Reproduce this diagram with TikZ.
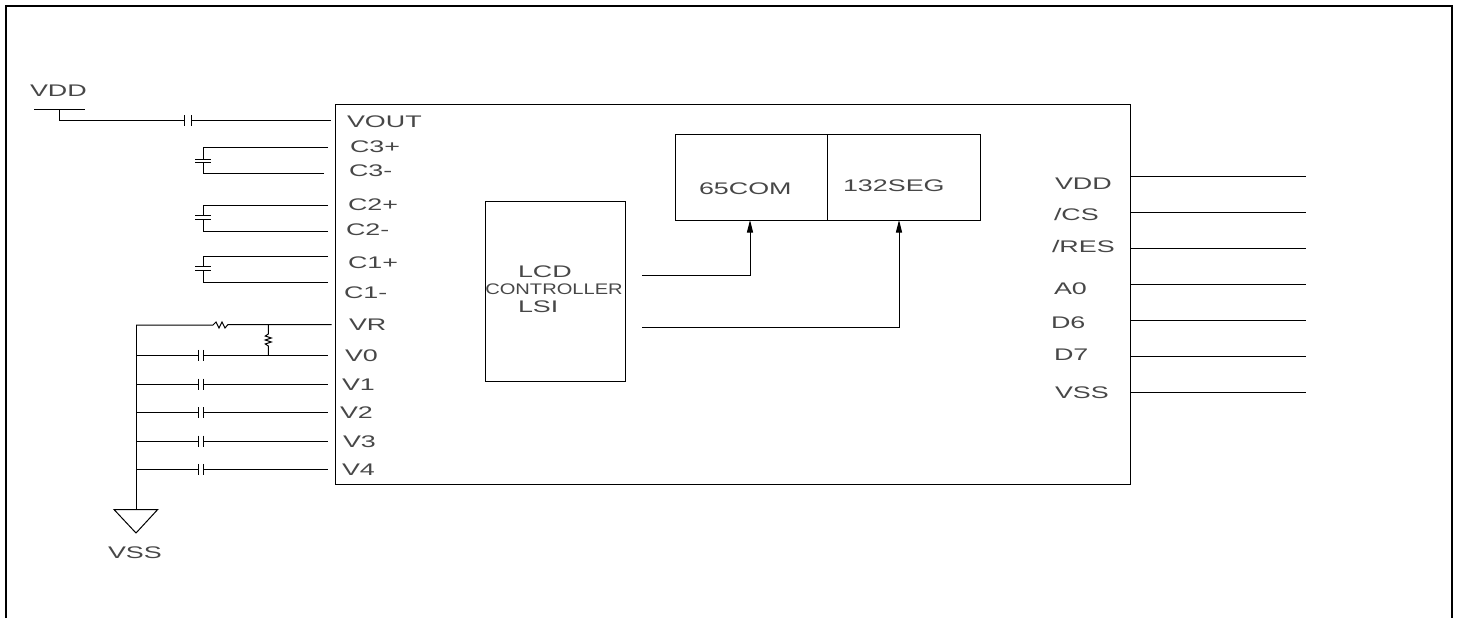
\documentclass[tikz,border=0pt]{standalone}
\usepackage{fontspec}
\setmainfont{Liberation Sans}
\usetikzlibrary{arrows.meta}
\tikzset{every picture/.style={line width=0.75pt},
  pinlabel/.style={anchor=west,inner sep=0pt,outer sep=0pt,font=\fontsize{12.6}{13}\selectfont,text height=9pt,text depth=0pt,xscale=1.6,text=black!72},
  smalllabel/.style={pinlabel,anchor=center,font=\fontsize{11.5}{12}\selectfont,text height=8.2pt,xscale=0.82},
  blockbox/.style={draw,inner sep=0pt,outer sep=0pt},
  wirearrow/.style={-{Triangle[length=9.5pt,width=4.6pt]}}}

\begin{document}
\begin{tikzpicture}[x=0.75pt,y=0.75pt,yscale=-1]
  \useasboundingbox (0,0) rectangle (1458,618);

  % outer frame, open at the bottom
  \draw [line width=1.5pt] (6,618) -- (6,6) -- (1452,6) -- (1452,618);

  % blocks
  \node (chip) [blockbox,minimum width=596.25pt,minimum height=285pt] at (732.5,294) {};
  \node (lsi) [blockbox,minimum width=105pt,minimum height=135pt] at (555,291) {};
  \node (com) [blockbox,minimum width=114pt,minimum height=64.5pt] at (751,177) {};
  \node (seg) [blockbox,minimum width=114.75pt,minimum height=64.5pt] at (903.5,177) {};

  \node (lblLcd) [pinlabel] at (518,271) {LCD};
  \node (lblCtrl) [smalllabel] at (554,289) {CONTROLLER};
  \node (lblLsi) [pinlabel] at (518,306) {LSI};
  \node (lblCom) [pinlabel] at (699,188) {65COM};
  \node (lblSeg) [pinlabel] at (843,185) {132SEG};

  % block arrows
  \coordinate (lsiOutA) at (642,275);
  \coordinate (lsiOutB) at (642,327);
  \coordinate (comIn) at (750,220);
  \coordinate (segIn) at (899,220);
  \draw [wirearrow] (lsiOutA) -| (comIn);
  \draw [wirearrow] (lsiOutB) -| (segIn);

  % left pin labels
  \node (lblVout) [pinlabel] at (347,121) {VOUT};
  \node (lblCthreeP) [pinlabel] at (350,146) {C3+};
  \node (lblCthreeM) [pinlabel] at (349,170) {C3-};
  \node (lblCtwoP) [pinlabel] at (348,204) {C2+};
  \node (lblCtwoM) [pinlabel] at (346,229) {C2-};
  \node (lblConeP) [pinlabel] at (348,262) {C1+};
  \node (lblConeM) [pinlabel] at (344,292) {C1-};
  \node (lblVr) [pinlabel] at (349,324) {VR};
  \node (lblVzero) [pinlabel] at (345,355) {V0};
  \node (lblVone) [pinlabel] at (342,384) {V1};
  \node (lblVtwo) [pinlabel] at (340,412) {V2};
  \node (lblVthree) [pinlabel] at (343,441) {V3};
  \node (lblVfour) [pinlabel] at (342,469) {V4};

  % right pin labels
  \node (lblRvdd) [pinlabel] at (1055,183) {VDD};
  \node (lblCs) [pinlabel] at (1054,214) {/CS};
  \node (lblRes) [pinlabel] at (1052,246) {/RES};
  \node (lblAzero) [pinlabel] at (1054,288) {A0};
  \node (lblDsix) [pinlabel] at (1051,322) {D6};
  \node (lblDseven) [pinlabel] at (1054,354) {D7};
  \node (lblRvss) [pinlabel] at (1055,392) {VSS};

  % right pins
  \coordinate (rpA) at (1130,176.7);
  \coordinate (rpB) at (1130,212.3);
  \coordinate (rpC) at (1130,248);
  \coordinate (rpD) at (1130,284);
  \coordinate (rpE) at (1130,320.3);
  \coordinate (rpF) at (1130,356.3);
  \coordinate (rpG) at (1130,392);
  \draw (rpA) -- ++(176,0);
  \draw (rpB) -- ++(176,0);
  \draw (rpC) -- ++(176,0);
  \draw (rpD) -- ++(176,0);
  \draw (rpE) -- ++(176,0);
  \draw (rpF) -- ++(176,0);
  \draw (rpG) -- ++(176,0);

  % VDD supply and VOUT capacitor
  \node (lblVdd) [pinlabel] at (30,90) {VDD};
  \coordinate (vddStem) at (59,109.3);
  \coordinate (pinVout) at (331,120.7);
  \coordinate (voutCapA) at (184.3,120.7);
  \coordinate (voutCapB) at (191.7,120.7);
  \draw (34,109.3) -- (85,109.3);
  \draw (vddStem) |- (voutCapA);
  \draw (voutCapB) -- (pinVout);
  \draw (voutCapA) ++(0,-5.5) -- ++(0,11);
  \draw (voutCapB) ++(0,-5.5) -- ++(0,11);

  % flying capacitors
  \coordinate (pinCthreeP) at (328,147.7);
  \coordinate (pinCthreeM) at (324,173.3);
  \coordinate (capThreeA) at (203,159);
  \coordinate (capThreeB) at (203,162);
  \draw (pinCthreeP) -| (capThreeA);
  \draw (pinCthreeM) -| (capThreeB);
  \draw (capThreeA) ++(-8,0) -- ++(16,0);
  \draw (capThreeB) ++(-8,0) -- ++(16,0);

  \coordinate (pinCtwoP) at (328,205.3);
  \coordinate (pinCtwoM) at (328,231);
  \coordinate (capTwoA) at (203,215.7);
  \coordinate (capTwoB) at (203,219.3);
  \draw (pinCtwoP) -| (capTwoA);
  \draw (pinCtwoM) -| (capTwoB);
  \draw (capTwoA) ++(-8,0) -- ++(16,0);
  \draw (capTwoB) ++(-8,0) -- ++(16,0);

  \coordinate (pinConeP) at (328,256.7);
  \coordinate (pinConeM) at (328,282.7);
  \coordinate (capOneA) at (203,266.7);
  \coordinate (capOneB) at (203,270);
  \draw (pinConeP) -| (capOneA);
  \draw (pinConeM) -| (capOneB);
  \draw (capOneA) ++(-8,0) -- ++(16,0);
  \draw (capOneB) ++(-8,0) -- ++(16,0);

  % VSS rail
  \coordinate (railTop) at (136,325);
  \coordinate (railEnd) at (136,509.5);
  \draw (railTop) -- (railEnd);
  \draw (114,509.5) -- (157.7,509.5) -- (136,533) -- cycle;
  \node (lblVss) [pinlabel] at (108,552) {VSS};

  % VR line with its two resistors
  \coordinate (pinVr) at (331.7,324.5);
  \coordinate (resTap) at (268.3,324.5);
  \coordinate (pinVzero) at (327.7,355.3);
  \coordinate (resTapB) at (268.3,355.3);
  \draw (railTop) -- (213,325) -- (216,322) -- (219,328) -- (222,322) -- (225,328) -- (228,324.5) -- (pinVr);
  \draw (resTap) -- (268.3,334) -- (265.3,336) -- (271.3,338) -- (265.3,340) -- (271.3,342) -- (265.3,344) -- (268.3,346) -- (resTapB);

  % filter capacitors to the rail
  \coordinate (railZero) at (136,355.3);
  \coordinate (capZeroA) at (198.3,355.3);
  \coordinate (capZeroB) at (203.3,355.3);
  \draw (railZero) -- (capZeroA);
  \draw (capZeroB) -- (pinVzero);
  \draw (capZeroA) ++(0,-5.5) -- ++(0,11);
  \draw (capZeroB) ++(0,-5.5) -- ++(0,11);

  \coordinate (railOne) at (136,384);
  \coordinate (capOneC) at (198.3,384);
  \coordinate (capOneD) at (203.3,384);
  \coordinate (pinVone) at (327.7,384);
  \draw (railOne) -- (capOneC);
  \draw (capOneD) -- (pinVone);
  \draw (capOneC) ++(0,-5.5) -- ++(0,11);
  \draw (capOneD) ++(0,-5.5) -- ++(0,11);

  \coordinate (railTwo) at (136,412.7);
  \coordinate (capTwoC) at (198.3,412.7);
  \coordinate (capTwoD) at (203.3,412.7);
  \coordinate (pinVtwo) at (327.7,412.7);
  \draw (railTwo) -- (capTwoC);
  \draw (capTwoD) -- (pinVtwo);
  \draw (capTwoC) ++(0,-5.5) -- ++(0,11);
  \draw (capTwoD) ++(0,-5.5) -- ++(0,11);

  \coordinate (railThree) at (136,441);
  \coordinate (capThreeC) at (198.3,441);
  \coordinate (capThreeD) at (203.3,441);
  \coordinate (pinVthree) at (327.7,441);
  \draw (railThree) -- (capThreeC);
  \draw (capThreeD) -- (pinVthree);
  \draw (capThreeC) ++(0,-5.5) -- ++(0,11);
  \draw (capThreeD) ++(0,-5.5) -- ++(0,11);

  \coordinate (railFour) at (136,469.3);
  \coordinate (capFourC) at (198.3,469.3);
  \coordinate (capFourD) at (203.3,469.3);
  \coordinate (pinVfour) at (327.7,469.3);
  \draw (railFour) -- (capFourC);
  \draw (capFourD) -- (pinVfour);
  \draw (capFourC) ++(0,-5.5) -- ++(0,11);
  \draw (capFourD) ++(0,-5.5) -- ++(0,11);
\end{tikzpicture}
\end{document}
